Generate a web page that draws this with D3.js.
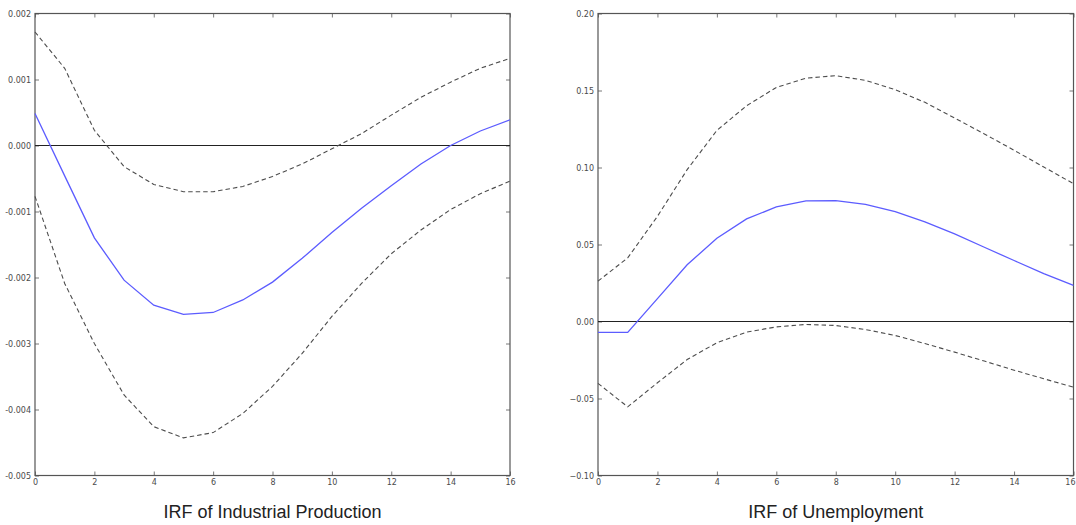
<!DOCTYPE html>
<html>
<head>
<meta charset="utf-8">
<script src="https://cdn.jsdelivr.net/npm/d3@7"></script>
<style>
  html, body { margin: 0; padding: 0; background: #fff; }
  svg { display: block; }
  .tick text { font-family: "DejaVu Sans", sans-serif; font-size: 8px; fill: #4a4a4a; }
  .title { font-family: "Liberation Sans", Arial, sans-serif; font-size: 18px; fill: #222; }
</style>
</head>
<body>
<svg id="chart" width="1076" height="525"></svg>
<script>
// Horizon (periods after the shock)
const steps = d3.range(0, 17);

// Industrial production: impulse response and its error bands
const ipIrf   = [0.000485, -0.00046, -0.0014, -0.00204, -0.00242, -0.00256, -0.00253, -0.00234,
                 -0.00207, -0.00171, -0.00132, -0.00095, -0.00061, -0.00028, 0.0, 0.00022, 0.00039];
const ipUpper = [0.00172, 0.00117, 0.00023, -0.00032, -0.00059, -0.0007, -0.0007, -0.00062,
                 -0.00047, -0.00028, -0.00005, 0.00018, 0.00046, 0.00073, 0.00096, 0.00117, 0.00132];
const ipLower = [-0.00077, -0.00209, -0.003, -0.00378, -0.00426, -0.00443, -0.00435, -0.00406,
                 -0.00365, -0.00315, -0.00259, -0.00209, -0.00164, -0.00128, -0.00097, -0.00073, -0.00054];

// Unemployment: impulse response and its error bands
const unIrf   = [-0.0071, -0.0071, 0.0149, 0.0368, 0.0541, 0.0666, 0.0744, 0.0783,
                 0.0785, 0.0761, 0.0714, 0.0647, 0.0569, 0.0482, 0.0396, 0.0311, 0.0234];
const unUpper = [0.0262, 0.0413, 0.0683, 0.0986, 0.1241, 0.1401, 0.152, 0.158,
                 0.1596, 0.1566, 0.1505, 0.1423, 0.1321, 0.1218, 0.1112, 0.1003, 0.0895];
const unLower = [-0.0402, -0.0554, -0.0398, -0.0247, -0.0138, -0.0069, -0.0035, -0.0019,
                 -0.0026, -0.0052, -0.0091, -0.0143, -0.0199, -0.0257, -0.0316, -0.0372, -0.0426];

// Tick values and labels
const xTicks = [0, 2, 4, 6, 8, 10, 12, 14, 16];
const ipTicks = [-0.005, -0.004, -0.003, -0.002, -0.001, 0.000, 0.001, 0.002];
const ipTickLabels = ["-0.005", "-0.004", "-0.003", "-0.002", "-0.001", "0.000", "0.001", "0.002"];
const unTicks = [-0.10, -0.05, 0.00, 0.05, 0.10, 0.15, 0.20];
const unTickLabels = ["\u22120.10", "\u22120.05", "0.00", "0.05", "0.10", "0.15", "0.20"];

const titles = ["IRF of Industrial Production", "IRF of Unemployment"];

const svg = d3.select("#chart");
const width = +svg.attr("width");

const panels = [
  { left: 35, right: 510, yDomain: [-0.005, 0.002], irf: ipIrf, upper: ipUpper, lower: ipLower,
    ticks: ipTicks, labels: ipTickLabels, title: titles[0] },
  { left: 598, right: 1073.5, yDomain: [-0.10, 0.20], irf: unIrf, upper: unUpper, lower: unLower,
    ticks: unTicks, labels: unTickLabels, title: titles[1] }
];

const plotTop = 13.5, plotBottom = 475.5;
const spine = "#555";

panels.forEach(p => {
  const x = d3.scaleLinear().domain([0, 16]).range([p.left, p.right]);
  const y = d3.scaleLinear().domain(p.yDomain).range([plotBottom, plotTop]);
  const g = svg.append("g");

  // Axes with short inward ticks on all four sides
  const yl = g.append("g").attr("transform", `translate(${p.left},0)`)
    .call(d3.axisLeft(y).tickValues(p.ticks).tickFormat((d, i) => p.labels[i]).tickSize(-4).tickPadding(4));
  const yr = g.append("g").attr("transform", `translate(${p.right},0)`)
    .call(d3.axisRight(y).tickValues(p.ticks).tickFormat("").tickSize(-4));
  const xb = g.append("g").attr("transform", `translate(0,${plotBottom})`)
    .call(d3.axisBottom(x).tickValues(xTicks).tickSize(-4).tickPadding(4));
  const xt = g.append("g").attr("transform", `translate(0,${plotTop})`)
    .call(d3.axisTop(x).tickValues(xTicks).tickFormat("").tickSize(-4));
  [yl, yr, xb, xt].forEach(a => {
    a.select(".domain").remove();
    a.selectAll(".tick line").attr("stroke", spine).attr("stroke-width", 0.8);
  });
  yl.selectAll(".tick text").attr("dy", "0.32em");

  // Keep x tick labels inside the canvas at the right edge
  xb.selectAll(".tick text").each(function (d) {
    const node = this;
    const bb = node.getBBox();
    const right = x(d) + bb.width / 2;
    if (right > width - 1) d3.select(node).attr("x", (width - 1) - right);
  });

  // Frame
  g.append("rect")
    .attr("x", p.left).attr("y", plotTop)
    .attr("width", p.right - p.left).attr("height", plotBottom - plotTop)
    .attr("fill", "none").attr("stroke", spine).attr("stroke-width", 1.2);

  // Zero reference line
  g.append("line")
    .attr("x1", p.left).attr("x2", p.right)
    .attr("y1", y(0)).attr("y2", y(0))
    .attr("stroke", "#222").attr("stroke-width", 1);

  const line = d3.line().x((d, i) => x(steps[i])).y(d => y(d));

  // Error bands
  [p.upper, p.lower].forEach(band => {
    g.append("path").datum(band)
      .attr("d", line)
      .attr("fill", "none")
      .attr("stroke", "#4d4d4d")
      .attr("stroke-width", 1.1)
      .attr("stroke-dasharray", "4.5,3");
  });

  // Point estimate
  g.append("path").datum(p.irf)
    .attr("d", line)
    .attr("fill", "none")
    .attr("stroke", "#5c5cff")
    .attr("stroke-width", 1.3);

  // Panel title
  svg.append("text")
    .attr("class", "title")
    .attr("x", (p.left + p.right) / 2)
    .attr("y", 518)
    .attr("text-anchor", "middle")
    .text(p.title);
});
</script>
</body>
</html>
